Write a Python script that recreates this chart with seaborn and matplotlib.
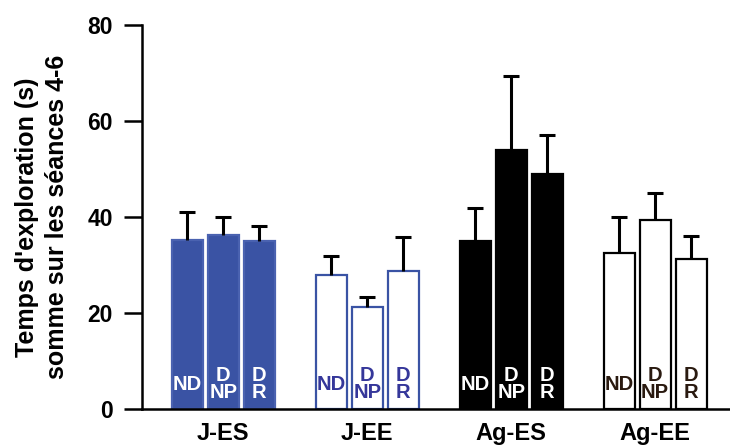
import numpy as np
import pandas as pd
import matplotlib
matplotlib.use("Agg")
import matplotlib.pyplot as plt
import seaborn as sns

groups = ["J-ES", "J-EE", "Ag-ES", "Ag-EE"]
conditions = ["ND", "D\nNP", "D\nR"]
means = {
    "J-ES": [35.2, 36.3, 35.0],
    "J-EE": [27.9, 21.2, 28.8],
    "Ag-ES": [35.1, 54.0, 49.0],
    "Ag-EE": [32.5, 39.4, 31.3],
}
sems = {
    "J-ES": [5.8, 3.7, 3.1],
    "J-EE": [3.9, 2.1, 7.1],
    "Ag-ES": [6.8, 15.4, 8.1],
    "Ag-EE": [7.6, 5.5, 4.7],
}
face_colors = {"J-ES": "#3a53a4", "J-EE": "white", "Ag-ES": "black", "Ag-EE": "white"}
edge_colors = {"J-ES": "#4a62b0", "J-EE": "#3a53a4", "Ag-ES": "black", "Ag-EE": "black"}
text_colors = {"J-ES": "white", "J-EE": "#35379a", "Ag-ES": "white", "Ag-EE": "#2a1a10"}

rows = []
for gi, g in enumerate(groups):
    for ci, c in enumerate(conditions):
        rows.append({"group": g, "cond": c, "pos": gi * 4 + ci,
                     "mean": means[g][ci], "sem": sems[g][ci]})
df = pd.DataFrame(rows)

sns.set_theme(style="ticks")
plt.rcParams["font.family"] = ["Liberation Sans", "DejaVu Sans"]
plt.rcParams["font.weight"] = "bold"
plt.rcParams["text.color"] = "black"
plt.rcParams["axes.labelcolor"] = "black"
plt.rcParams["xtick.color"] = "black"
plt.rcParams["ytick.color"] = "black"
plt.rcParams["axes.edgecolor"] = "black"

fig = plt.figure(figsize=(7.3, 4.48), dpi=100)
ax = fig.add_axes([142 / 730, 39 / 448, 1 - 142 / 730, 384 / 448])

sns.barplot(data=df, x="pos", y="mean", native_scale=True, width=0.86,
            errorbar=None, ax=ax, color="white")

for patch, (_, r) in zip(ax.patches, df.iterrows()):
    patch.set_facecolor(face_colors[r["group"]])
    patch.set_edgecolor(edge_colors[r["group"]])
    patch.set_linewidth(1.6)

top = df["mean"] + df["sem"]
ax.vlines(df["pos"], df["mean"], top, colors="black", linewidth=2.2, zorder=3)
ax.plot(df["pos"], top, ls="none", marker="_", markersize=12, mew=2.2,
        color="black", zorder=3)

for _, r in df.iterrows():
    ax.text(r["pos"], 5.2, r["cond"], ha="center", va="center", fontsize=14.5,
            fontweight="bold", color=text_colors[r["group"]], linespacing=0.92, zorder=4)

ax.set_xlim(-1.26, 15.08)
ax.set_ylim(0, 80)
ax.set_yticks([0, 20, 40, 60, 80])
ax.set_xticks([1, 5, 9, 13])
ax.set_xticklabels(groups, fontsize=17, fontweight="bold")
ax.tick_params(axis="x", length=0, pad=9)
ax.tick_params(axis="y", length=13, width=1.8, labelsize=16.5, pad=8)
for lbl in ax.get_yticklabels():
    lbl.set_fontweight("bold")
ax.set_xlabel("")
ax.set_ylabel("Temps d'exploration (s)\nsomme sur les séances 4-6", fontsize=18,
              fontweight="bold", labelpad=13, linespacing=1.35)
sns.despine(ax=ax, top=True, right=True)
ax.spines["left"].set_linewidth(1.8)
ax.spines["bottom"].set_linewidth(1.8)

fig.savefig("out.png", dpi=100)
